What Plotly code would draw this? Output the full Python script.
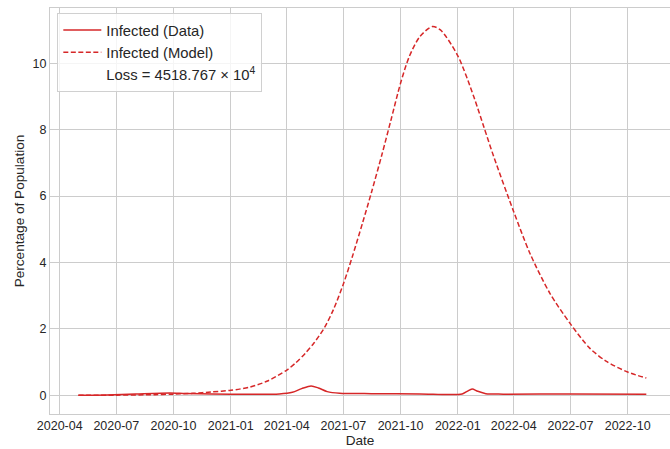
import plotly.graph_objects as go

# ---- data ----
model_dates = ["2020-05-01", "2020-07-01", "2020-09-01", "2020-10-01", "2020-11-01",
               "2020-12-01", "2021-01-01", "2021-02-01", "2021-03-01", "2021-04-01",
               "2021-04-15", "2021-05-01", "2021-05-15", "2021-06-01", "2021-06-15",
               "2021-07-01", "2021-07-15", "2021-08-01", "2021-08-15", "2021-09-01",
               "2021-09-15", "2021-10-01", "2021-10-15", "2021-11-01", "2021-11-21",
               "2021-12-04", "2022-01-01", "2022-01-27", "2022-02-12", "2022-02-28",
               "2022-04-01", "2022-04-27", "2022-05-29", "2022-07-01", "2022-08-01",
               "2022-08-28", "2022-10-01", "2022-10-31"]
model_vals = [0.00, 0.005, 0.02, 0.035, 0.06,
              0.10, 0.15, 0.25, 0.43, 0.76,
              0.97, 1.27, 1.58, 2.05, 2.58,
              3.35, 4.15, 5.20, 6.10, 7.25,
              8.25, 9.40, 10.20, 10.80, 11.10,
              11.00, 10.22, 8.97, 8.07, 7.17,
              5.52, 4.27, 3.07, 2.15, 1.42,
              1.02, 0.70, 0.52]

data_dates = ["2020-05-01", "2020-06-15", "2020-08-01", "2020-09-25", "2020-10-20",
              "2020-12-01", "2021-02-01", "2021-03-20", "2021-04-10", "2021-04-25",
              "2021-05-10", "2021-05-22", "2021-06-05", "2021-06-25", "2021-08-15",
              "2021-11-01", "2022-01-08", "2022-01-16", "2022-01-24", "2022-02-02",
              "2022-02-15", "2022-03-15", "2022-07-01", "2022-10-31"]
data_vals = [0.00, 0.01, 0.04, 0.07, 0.055,
             0.04, 0.03, 0.04, 0.09, 0.20,
             0.28, 0.22, 0.11, 0.06, 0.05,
             0.04, 0.04, 0.12, 0.19, 0.12,
             0.05, 0.035, 0.04, 0.03]

loss_label = "Loss = 4518.767 × 10<sup>4</sup>"
y_ticks = [0, 2, 4, 6, 8, 10]

RED = "#d62728"
TEXT = "#262626"
GRID = "#cccccc"
FONT = "Liberation Sans, Arial, sans-serif"

fig = go.Figure()
fig.add_trace(go.Scatter(x=data_dates, y=data_vals, mode="lines", name="Infected (Data)",
                         line=dict(color=RED, width=1.5, shape="spline", smoothing=0.8)))
fig.add_trace(go.Scatter(x=model_dates, y=model_vals, mode="lines", name="Infected (Model)",
                         line=dict(color=RED, width=1.5, dash="5px,2.5px",
                                   shape="spline", smoothing=0.8)))
fig.add_trace(go.Scatter(x=[None], y=[None], mode="lines", name=loss_label,
                         line=dict(color="rgba(0,0,0,0)", width=1.5)))

fig.update_layout(
    width=670, height=449,
    margin=dict(l=50, r=0, t=8, b=35, autoexpand=False),
    paper_bgcolor="white", plot_bgcolor="white",
    font=dict(family=FONT, size=12.5, color=TEXT),
    showlegend=True,
    legend=dict(x=0.0118, y=0.988, xanchor="left", yanchor="top", itemwidth=38,
                bgcolor="rgba(255,255,255,0.8)", bordercolor="#d0d0d0", borderwidth=1,
                font=dict(size=14.8, color=TEXT, family=FONT)),
)
fig.update_xaxes(
    type="date",
    range=["2020-03-16 09:00", "2022-12-08 02:00"],
    tickmode="linear", tick0="2020-01-01", dtick="M3", tickformat="%Y-%m",
    showgrid=True, gridcolor=GRID, gridwidth=1,
    showline=True, linecolor=GRID, linewidth=1, mirror=True,
    ticks="", zeroline=False, automargin=False,
    title=dict(text="Date", font=dict(size=13.6, color=TEXT), standoff=3),
)
fig.update_yaxes(
    range=[-0.563, 11.66],
    tickmode="array", tickvals=y_ticks,
    showgrid=True, gridcolor=GRID, gridwidth=1,
    showline=True, linecolor=GRID, linewidth=1, mirror=False,
    ticks="", zeroline=False, automargin=False,
    title=dict(text="Percentage of Population", font=dict(size=13.6, color=TEXT), standoff=4),
)

fig.write_html("out.html", config={"displayModeBar": False},
               post_script="document.body.style.margin='0';document.body.style.overflow='hidden';")
